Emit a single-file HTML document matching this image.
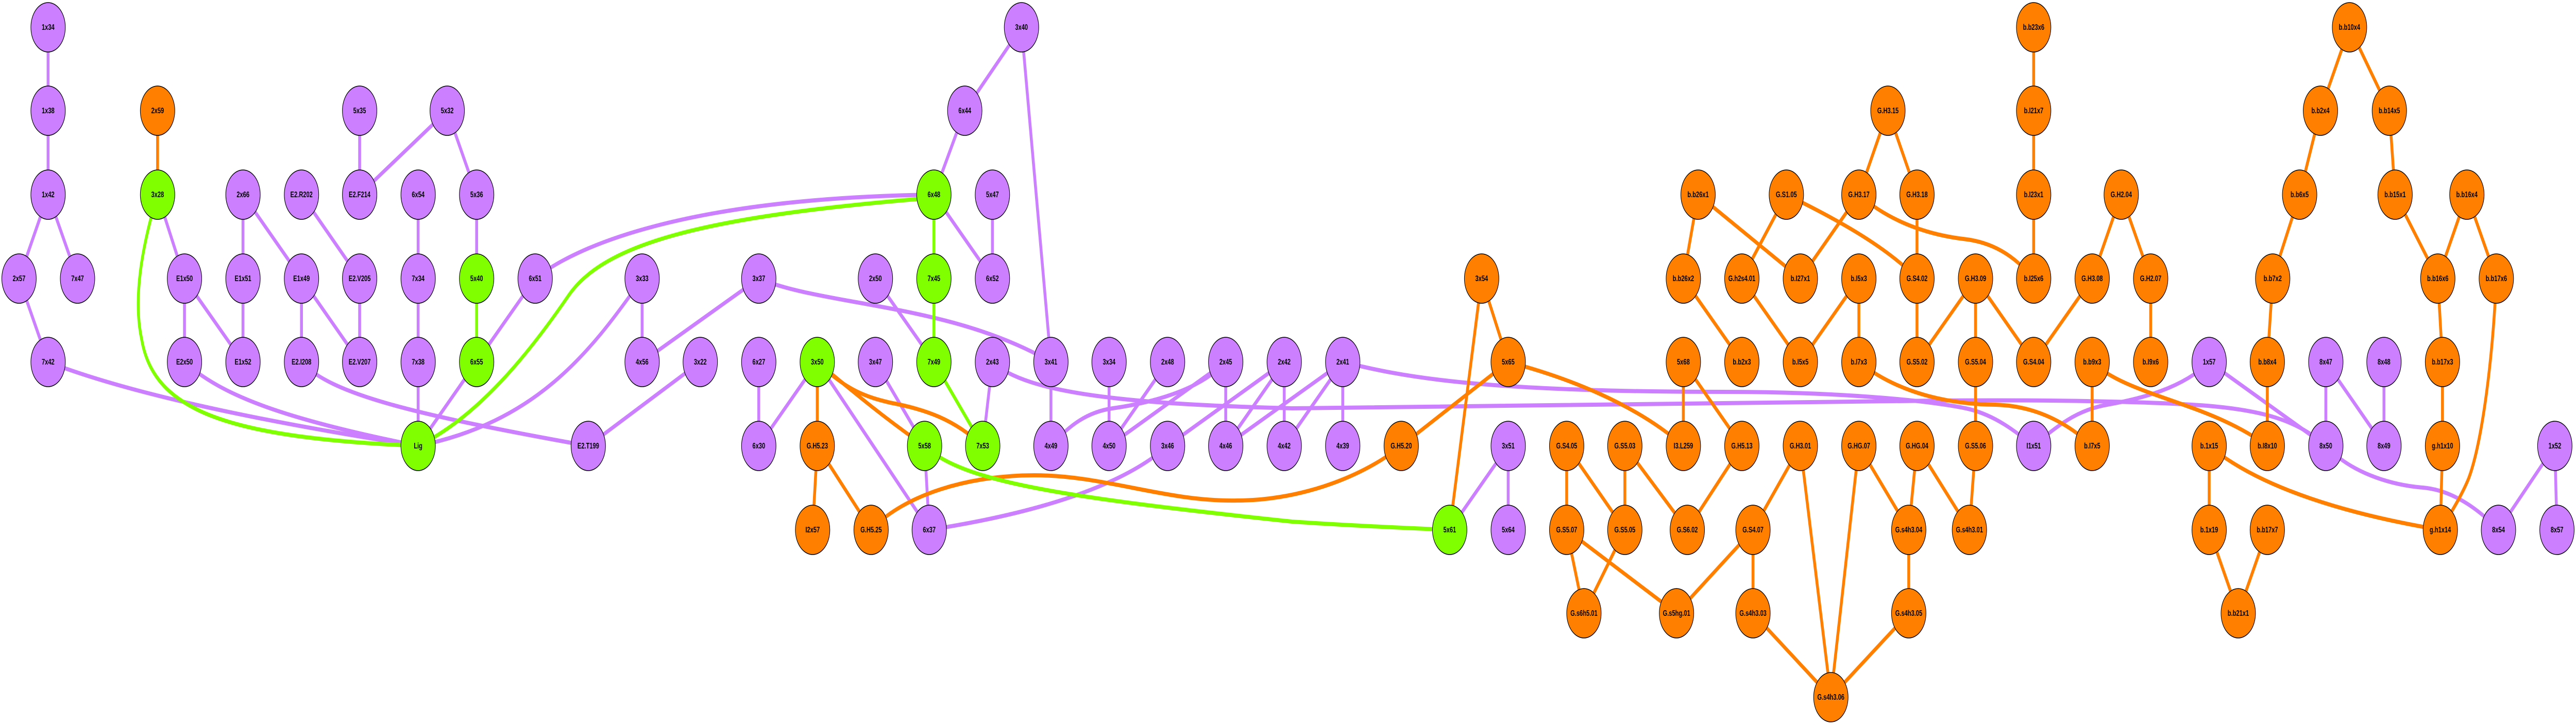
<!DOCTYPE html>
<html><head><meta charset="utf-8"><title>Residue network</title>
<style>
html,body{margin:0;padding:0;background:#fff;width:100%;height:100%;overflow:hidden}
svg{display:block;position:absolute;left:0;top:0;width:100vw;height:100vh}
path{fill:none;stroke-width:8}
.p{stroke:#cc80ff}.o{stroke:#ff8000}.g{stroke:#80ff00}
circle{stroke:#000;stroke-width:1.5}
.P{fill:#cc80ff}.O{fill:#ff8000}.G{fill:#80ff00}
text{font-family:"Liberation Sans",Arial,sans-serif;font-weight:bold;font-size:16px;text-anchor:middle;fill:#000}
</style></head><body>
<svg xmlns="http://www.w3.org/2000/svg" viewBox="0 0 7177 1408" preserveAspectRatio="none">
<rect width="7177" height="1408" fill="#fff"/>
<path class="p" d="M134,53L134,215M134,215L134,378M134,378L53,541M134,378L216,541M53,541L134,703M439,378L514,541M514,541L514,703M514,541L677,703M677,378L677,541M677,541L677,703M677,378L840,541M840,541L840,703M840,541L1002,703M840,378L1002,541M1002,541L1002,703M1002,215L1002,378M1246,215L1002,378M1246,215L1328,378M1328,378L1328,541M1165,378L1165,541M1165,541L1165,703M1165,703L1165,866M1328,703L1165,866M1491,541L1328,703M1789,541L1789,703M2114,541L1789,703M1951,703L1639,866M2114,703L2114,866M2277,703L2114,866M2277,703L2589,1029M2576,866L2589,1029M2439,703L2576,866M2439,541L2602,703M2765,703L2738,866M2846,53L2688,215M2688,215L2602,378M2846,53L2928,703M2602,378L2765,541M2765,378L2765,541M2928,703L2928,866M3090,703L3090,866M3253,703L3090,866M3415,703L3090,866M3415,703L3415,866M3578,703L3253,866M3578,703L3415,866M3578,703L3578,866M3741,703L3415,866M3741,703L3578,866M3741,703L3741,866M4202,866L4039,1029M4202,866L4202,1029M6480,703L6480,866M6480,703L6642,866M6642,703L6642,866M6155,703L6480,866M7118,866L6961,1029M7118,866L7124,1029"/>
<path class="p" d="M134,703C300,748 600,805 1165,866"/>
<path class="p" d="M514,703C620,770 800,815 1165,866"/>
<path class="p" d="M840,703C920,765 1150,805 1639,866"/>
<path class="p" d="M1491,541C1600,480 1900,385 2602,378"/>
<path class="p" d="M1789,541C1640,690 1490,820 1165,866"/>
<path class="p" d="M2114,541C2300,595 2650,590 2928,703"/>
<path class="p" d="M3253,866C3150,930 2950,990 2589,1029"/>
<path class="p" d="M2765,703C2860,765 3150,785 3600,793C4000,793 4500,785 5400,778C5700,776 6000,780 6150,788C6300,797 6400,815 6480,866"/>
<path class="p" d="M3415,703C3340,760 3200,783 3100,793C3030,800 2980,825 2928,866"/>
<path class="p" d="M3741,703C3900,730 4100,761 4800,761C5150,761 5400,780 5489,795C5560,808 5610,835 5666,866"/>
<path class="p" d="M6155,703C6080,755 5960,775 5871,786C5800,795 5750,815 5666,866"/>
<path class="p" d="M6480,866C6560,925 6680,943 6751,947C6830,952 6900,985 6961,1029"/>
<path class="o" d="M439,215L439,378M2277,703L2277,866M2277,866L2264,1029M2277,866L2427,1029M4128,541L4202,703M4128,541L4039,1029M4202,703L3904,866M4365,866L4365,1029M4365,866L4527,1029M4527,866L4527,1029M4527,866L4701,1029M4365,1029L4413,1191M4527,1029L4413,1191M4365,1029L4671,1191M4671,1191L4884,1029M4701,1029L4853,866M4690,703L4690,866M4690,703L4853,866M4731,378L4690,541M4690,541L4853,703M4731,378L5016,541M4977,378L4853,541M5260,215L5179,378M5260,215L5341,378M5179,378L5016,541M5341,378L5341,541M5341,541L5341,703M4853,541L5016,703M5179,541L5016,703M5179,541L5179,703M5504,541L5341,703M5504,541L5504,703M5504,541L5666,703M5504,703L5504,866M5504,866L5487,1029M5341,866L5487,1029M5341,866L5318,1029M5179,866L5318,1029M5179,866L5101,1354M5016,866L5101,1354M5016,866L4884,1029M4884,1029L4884,1191M4884,1191L5101,1354M5318,1029L5318,1191M5318,1191L5101,1354M5829,541L5666,703M5910,378L5829,541M5910,378L5992,541M5992,541L5992,703M5666,53L5666,215M5666,215L5666,378M5666,378L5666,541M5829,703L5829,866M6317,703L6317,866M6332,541L6317,703M6407,378L6332,541M6465,215L6407,378M6546,53L6465,215M6546,53L6657,215M6657,215L6673,378M6673,378L6792,541M6873,378L6792,541M6873,378L6955,541M6792,541L6805,703M6805,703L6805,866M6805,866L6799,1029M6155,866L6155,1029M6155,1029L6236,1191M6317,1029L6236,1191"/>
<path class="o" d="M2277,703C2350,745 2450,805 2576,866"/>
<path class="o" d="M2277,703C2360,760 2420,772 2480,782C2580,795 2660,815 2738,866"/>
<path class="o" d="M2427,1029C2520,960 2700,923 2882,923C3080,923 3250,975 3448,972C3600,972 3780,935 3904,866"/>
<path class="o" d="M4202,703C4350,730 4550,780 4690,866"/>
<path class="o" d="M4977,378C5100,420 5250,475 5341,541"/>
<path class="o" d="M5179,378C5280,440 5400,458 5470,464C5550,470 5610,495 5666,541"/>
<path class="o" d="M5179,703C5300,770 5450,785 5560,786C5660,788 5750,815 5829,866"/>
<path class="o" d="M5829,703C5930,770 6150,780 6317,866"/>
<path class="o" d="M6955,541C6945,700 6915,860 6878,929C6860,960 6830,995 6799,1029"/>
<path class="o" d="M6155,866C6300,950 6550,1000 6799,1029"/>
<path class="g" d="M1328,541L1328,703M2602,378L2602,541M2602,541L2602,703M2602,703L2738,866"/>
<path class="g" d="M439,378C395,480 370,580 395,660C430,800 640,850 1165,866"/>
<path class="g" d="M1165,866C1330,810 1470,690 1583,575C1680,475 1950,420 2602,384"/>
<path class="g" d="M2576,866C2680,935 2950,965 3600,1013C3750,1020 3900,1025 4039,1029"/>
<circle class="P" cx="134" cy="53" r="48"/><text x="134" y="58">1x34</text>
<circle class="P" cx="134" cy="215" r="48"/><text x="134" y="220">1x38</text>
<circle class="P" cx="134" cy="378" r="48"/><text x="134" y="383">1x42</text>
<circle class="P" cx="53" cy="541" r="48"/><text x="53" y="546">2x57</text>
<circle class="P" cx="216" cy="541" r="48"/><text x="216" y="546">7x47</text>
<circle class="P" cx="134" cy="703" r="48"/><text x="134" y="708">7x42</text>
<circle class="O" cx="439" cy="215" r="48"/><text x="439" y="220">2x59</text>
<circle class="G" cx="439" cy="378" r="48"/><text x="439" y="383">3x28</text>
<circle class="P" cx="514" cy="541" r="48"/><text x="514" y="546">E1x50</text>
<circle class="P" cx="514" cy="703" r="48"/><text x="514" y="708">E2x50</text>
<circle class="P" cx="677" cy="378" r="48"/><text x="677" y="383">2x66</text>
<circle class="P" cx="677" cy="541" r="48"/><text x="677" y="546">E1x51</text>
<circle class="P" cx="677" cy="703" r="48"/><text x="677" y="708">E1x52</text>
<circle class="P" cx="840" cy="378" r="48"/><text x="840" y="383">E2.R202</text>
<circle class="P" cx="840" cy="541" r="48"/><text x="840" y="546">E1x49</text>
<circle class="P" cx="840" cy="703" r="48"/><text x="840" y="708">E2.I208</text>
<circle class="P" cx="1002" cy="215" r="48"/><text x="1002" y="220">5x35</text>
<circle class="P" cx="1002" cy="378" r="48"/><text x="1002" y="383">E2.F214</text>
<circle class="P" cx="1002" cy="541" r="48"/><text x="1002" y="546">E2.V205</text>
<circle class="P" cx="1002" cy="703" r="48"/><text x="1002" y="708">E2.V207</text>
<circle class="P" cx="1165" cy="378" r="48"/><text x="1165" y="383">6x54</text>
<circle class="P" cx="1165" cy="541" r="48"/><text x="1165" y="546">7x34</text>
<circle class="P" cx="1165" cy="703" r="48"/><text x="1165" y="708">7x38</text>
<circle class="G" cx="1165" cy="866" r="48"/><text x="1165" y="871">Lig</text>
<circle class="P" cx="1246" cy="215" r="48"/><text x="1246" y="220">5x32</text>
<circle class="P" cx="1328" cy="378" r="48"/><text x="1328" y="383">5x36</text>
<circle class="G" cx="1328" cy="541" r="48"/><text x="1328" y="546">5x40</text>
<circle class="G" cx="1328" cy="703" r="48"/><text x="1328" y="708">6x55</text>
<circle class="P" cx="1491" cy="541" r="48"/><text x="1491" y="546">6x51</text>
<circle class="P" cx="1789" cy="541" r="48"/><text x="1789" y="546">3x33</text>
<circle class="P" cx="1789" cy="703" r="48"/><text x="1789" y="708">4x56</text>
<circle class="P" cx="1951" cy="703" r="48"/><text x="1951" y="708">3x22</text>
<circle class="P" cx="1639" cy="866" r="48"/><text x="1639" y="871">E2.T199</text>
<circle class="P" cx="2114" cy="541" r="48"/><text x="2114" y="546">3x37</text>
<circle class="P" cx="2114" cy="703" r="48"/><text x="2114" y="708">6x27</text>
<circle class="P" cx="2114" cy="866" r="48"/><text x="2114" y="871">6x30</text>
<circle class="G" cx="2277" cy="703" r="48"/><text x="2277" y="708">3x50</text>
<circle class="O" cx="2277" cy="866" r="48"/><text x="2277" y="871">G.H5.23</text>
<circle class="O" cx="2264" cy="1029" r="48"/><text x="2264" y="1034">I2x57</text>
<circle class="O" cx="2427" cy="1029" r="48"/><text x="2427" y="1034">G.H5.25</text>
<circle class="P" cx="2846" cy="53" r="48"/><text x="2846" y="58">3x40</text>
<circle class="P" cx="2688" cy="215" r="48"/><text x="2688" y="220">6x44</text>
<circle class="G" cx="2602" cy="378" r="48"/><text x="2602" y="383">6x48</text>
<circle class="P" cx="2765" cy="378" r="48"/><text x="2765" y="383">5x47</text>
<circle class="P" cx="2439" cy="541" r="48"/><text x="2439" y="546">2x50</text>
<circle class="G" cx="2602" cy="541" r="48"/><text x="2602" y="546">7x45</text>
<circle class="P" cx="2765" cy="541" r="48"/><text x="2765" y="546">6x52</text>
<circle class="P" cx="2439" cy="703" r="48"/><text x="2439" y="708">3x47</text>
<circle class="G" cx="2602" cy="703" r="48"/><text x="2602" y="708">7x49</text>
<circle class="P" cx="2765" cy="703" r="48"/><text x="2765" y="708">2x43</text>
<circle class="P" cx="2928" cy="703" r="48"/><text x="2928" y="708">3x41</text>
<circle class="P" cx="3090" cy="703" r="48"/><text x="3090" y="708">3x34</text>
<circle class="P" cx="3253" cy="703" r="48"/><text x="3253" y="708">2x48</text>
<circle class="P" cx="3415" cy="703" r="48"/><text x="3415" y="708">2x45</text>
<circle class="P" cx="3578" cy="703" r="48"/><text x="3578" y="708">2x42</text>
<circle class="P" cx="3741" cy="703" r="48"/><text x="3741" y="708">2x41</text>
<circle class="G" cx="2576" cy="866" r="48"/><text x="2576" y="871">5x58</text>
<circle class="G" cx="2738" cy="866" r="48"/><text x="2738" y="871">7x53</text>
<circle class="P" cx="2928" cy="866" r="48"/><text x="2928" y="871">4x49</text>
<circle class="P" cx="3090" cy="866" r="48"/><text x="3090" y="871">4x50</text>
<circle class="P" cx="3253" cy="866" r="48"/><text x="3253" y="871">3x46</text>
<circle class="P" cx="3415" cy="866" r="48"/><text x="3415" y="871">4x46</text>
<circle class="P" cx="3578" cy="866" r="48"/><text x="3578" y="871">4x42</text>
<circle class="P" cx="3741" cy="866" r="48"/><text x="3741" y="871">4x39</text>
<circle class="P" cx="2589" cy="1029" r="48"/><text x="2589" y="1034">6x37</text>
<circle class="O" cx="3904" cy="866" r="48"/><text x="3904" y="871">G.H5.20</text>
<circle class="O" cx="4128" cy="541" r="48"/><text x="4128" y="546">3x54</text>
<circle class="O" cx="4202" cy="703" r="48"/><text x="4202" y="708">5x65</text>
<circle class="P" cx="4202" cy="866" r="48"/><text x="4202" y="871">3x51</text>
<circle class="G" cx="4039" cy="1029" r="48"/><text x="4039" y="1034">5x61</text>
<circle class="P" cx="4202" cy="1029" r="48"/><text x="4202" y="1034">5x64</text>
<circle class="O" cx="4365" cy="866" r="48"/><text x="4365" y="871">G.S4.05</text>
<circle class="O" cx="4365" cy="1029" r="48"/><text x="4365" y="1034">G.S5.07</text>
<circle class="O" cx="4527" cy="866" r="48"/><text x="4527" y="871">G.S5.03</text>
<circle class="O" cx="4527" cy="1029" r="48"/><text x="4527" y="1034">G.S5.05</text>
<circle class="O" cx="4413" cy="1191" r="48"/><text x="4413" y="1196">G.s6h5.01</text>
<circle class="O" cx="4671" cy="1191" r="48"/><text x="4671" y="1196">G.s5hg.01</text>
<circle class="O" cx="4731" cy="378" r="48"/><text x="4731" y="383">b.b26x1</text>
<circle class="O" cx="4690" cy="541" r="48"/><text x="4690" y="546">b.b26x2</text>
<circle class="O" cx="4690" cy="703" r="48"/><text x="4690" y="708">5x68</text>
<circle class="O" cx="4690" cy="866" r="48"/><text x="4690" y="871">I3.L259</text>
<circle class="O" cx="4701" cy="1029" r="48"/><text x="4701" y="1034">G.S6.02</text>
<circle class="O" cx="5260" cy="215" r="48"/><text x="5260" y="220">G.H3.15</text>
<circle class="O" cx="4977" cy="378" r="48"/><text x="4977" y="383">G.S1.05</text>
<circle class="O" cx="5179" cy="378" r="48"/><text x="5179" y="383">G.H3.17</text>
<circle class="O" cx="5341" cy="378" r="48"/><text x="5341" y="383">G.H3.18</text>
<circle class="O" cx="4853" cy="541" r="48"/><text x="4853" y="546">G.h2s4.01</text>
<circle class="O" cx="5016" cy="541" r="48"/><text x="5016" y="546">b.I27x1</text>
<circle class="O" cx="5179" cy="541" r="48"/><text x="5179" y="546">b.I5x3</text>
<circle class="O" cx="5341" cy="541" r="48"/><text x="5341" y="546">G.S4.02</text>
<circle class="O" cx="5504" cy="541" r="48"/><text x="5504" y="546">G.H3.09</text>
<circle class="O" cx="4853" cy="703" r="48"/><text x="4853" y="708">b.b2x3</text>
<circle class="O" cx="5016" cy="703" r="48"/><text x="5016" y="708">b.I5x5</text>
<circle class="O" cx="5179" cy="703" r="48"/><text x="5179" y="708">b.I7x3</text>
<circle class="O" cx="5341" cy="703" r="48"/><text x="5341" y="708">G.S5.02</text>
<circle class="O" cx="5504" cy="703" r="48"/><text x="5504" y="708">G.S5.04</text>
<circle class="O" cx="5666" cy="703" r="48"/><text x="5666" y="708">G.S4.04</text>
<circle class="O" cx="4853" cy="866" r="48"/><text x="4853" y="871">G.H5.13</text>
<circle class="O" cx="5016" cy="866" r="48"/><text x="5016" y="871">G.H3.01</text>
<circle class="O" cx="5179" cy="866" r="48"/><text x="5179" y="871">G.HG.07</text>
<circle class="O" cx="5341" cy="866" r="48"/><text x="5341" y="871">G.HG.04</text>
<circle class="O" cx="5504" cy="866" r="48"/><text x="5504" y="871">G.S5.06</text>
<circle class="P" cx="5666" cy="866" r="48"/><text x="5666" y="871">I1x51</text>
<circle class="O" cx="5829" cy="866" r="48"/><text x="5829" y="871">b.I7x5</text>
<circle class="O" cx="4884" cy="1029" r="48"/><text x="4884" y="1034">G.S4.07</text>
<circle class="O" cx="5318" cy="1029" r="48"/><text x="5318" y="1034">G.s4h3.04</text>
<circle class="O" cx="5487" cy="1029" r="48"/><text x="5487" y="1034">G.s4h3.01</text>
<circle class="O" cx="4884" cy="1191" r="48"/><text x="4884" y="1196">G.s4h3.03</text>
<circle class="O" cx="5318" cy="1191" r="48"/><text x="5318" y="1196">G.s4h3.05</text>
<circle class="O" cx="5101" cy="1354" r="48"/><text x="5101" y="1359">G.s4h3.06</text>
<circle class="O" cx="5666" cy="53" r="48"/><text x="5666" y="58">b.b23x6</text>
<circle class="O" cx="5666" cy="215" r="48"/><text x="5666" y="220">b.I21x7</text>
<circle class="O" cx="5666" cy="378" r="48"/><text x="5666" y="383">b.I23x1</text>
<circle class="O" cx="5666" cy="541" r="48"/><text x="5666" y="546">b.I25x6</text>
<circle class="O" cx="5910" cy="378" r="48"/><text x="5910" y="383">G.H2.04</text>
<circle class="O" cx="5829" cy="541" r="48"/><text x="5829" y="546">G.H3.08</text>
<circle class="O" cx="5992" cy="541" r="48"/><text x="5992" y="546">G.H2.07</text>
<circle class="O" cx="5829" cy="703" r="48"/><text x="5829" y="708">b.b9x3</text>
<circle class="O" cx="5992" cy="703" r="48"/><text x="5992" y="708">b.I9x6</text>
<circle class="O" cx="6546" cy="53" r="48"/><text x="6546" y="58">b.b10x4</text>
<circle class="O" cx="6465" cy="215" r="48"/><text x="6465" y="220">b.b2x4</text>
<circle class="O" cx="6657" cy="215" r="48"/><text x="6657" y="220">b.b14x5</text>
<circle class="O" cx="6407" cy="378" r="48"/><text x="6407" y="383">b.b6x5</text>
<circle class="O" cx="6673" cy="378" r="48"/><text x="6673" y="383">b.b15x1</text>
<circle class="O" cx="6873" cy="378" r="48"/><text x="6873" y="383">b.b16x4</text>
<circle class="O" cx="6332" cy="541" r="48"/><text x="6332" y="546">b.b7x2</text>
<circle class="O" cx="6792" cy="541" r="48"/><text x="6792" y="546">b.b16x6</text>
<circle class="O" cx="6955" cy="541" r="48"/><text x="6955" y="546">b.b17x6</text>
<circle class="P" cx="6155" cy="703" r="48"/><text x="6155" y="708">1x57</text>
<circle class="O" cx="6317" cy="703" r="48"/><text x="6317" y="708">b.b8x4</text>
<circle class="P" cx="6480" cy="703" r="48"/><text x="6480" y="708">8x47</text>
<circle class="P" cx="6642" cy="703" r="48"/><text x="6642" y="708">8x48</text>
<circle class="O" cx="6805" cy="703" r="48"/><text x="6805" y="708">b.b17x3</text>
<circle class="O" cx="6155" cy="866" r="48"/><text x="6155" y="871">b.1x15</text>
<circle class="O" cx="6317" cy="866" r="48"/><text x="6317" y="871">b.I8x10</text>
<circle class="P" cx="6480" cy="866" r="48"/><text x="6480" y="871">8x50</text>
<circle class="P" cx="6642" cy="866" r="48"/><text x="6642" y="871">8x49</text>
<circle class="O" cx="6805" cy="866" r="48"/><text x="6805" y="871">g.h1x10</text>
<circle class="P" cx="7118" cy="866" r="48"/><text x="7118" y="871">1x52</text>
<circle class="O" cx="6155" cy="1029" r="48"/><text x="6155" y="1034">b.1x19</text>
<circle class="O" cx="6317" cy="1029" r="48"/><text x="6317" y="1034">b.b17x7</text>
<circle class="O" cx="6799" cy="1029" r="48"/><text x="6799" y="1034">g.h1x14</text>
<circle class="P" cx="6961" cy="1029" r="48"/><text x="6961" y="1034">8x54</text>
<circle class="P" cx="7124" cy="1029" r="48"/><text x="7124" y="1034">8x57</text>
<circle class="O" cx="6236" cy="1191" r="48"/><text x="6236" y="1196">b.b21x1</text>
</svg>
</body></html>
